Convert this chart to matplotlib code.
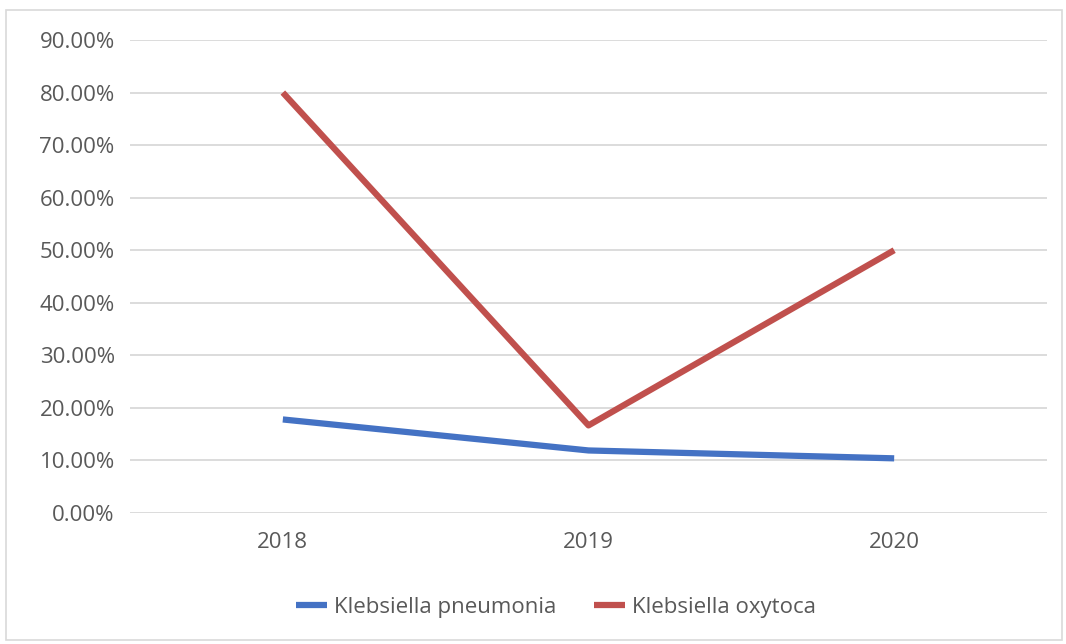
import matplotlib
matplotlib.use("Agg")
import matplotlib.pyplot as plt
from matplotlib.ticker import FuncFormatter
from matplotlib.patches import Rectangle

years = ["2018", "2019", "2020"]
pneumonia = [0.178, 0.119, 0.104]
oxytoca = [0.80, 0.1667, 0.50]
yticks = [0.0, 0.1, 0.2, 0.3, 0.4, 0.5, 0.6, 0.7, 0.8, 0.9]

plt.rcParams['font.family'] = ['Open Sans', 'DejaVu Sans']

fig = plt.figure(figsize=(10.66, 6.44), dpi=100)
fig.patches.append(Rectangle((6/1066, 4/644), 1056/1066, 630/644, transform=fig.transFigure,
                             fill=False, edgecolor='#D9D9D9', linewidth=1.2))
ax = fig.add_axes([130/1066, 1 - 513/644, 917/1066, 473/644])

x = list(range(len(years)))
ax.plot(x, pneumonia, color='#4472C4', linewidth=4.5, label='Klebsiella pneumonia', solid_capstyle='butt')
ax.plot(x, oxytoca, color='#C0504D', linewidth=4.5, label='Klebsiella oxytoca', solid_capstyle='butt')

ax.set_xlim(-0.5, len(years) - 0.5)
ax.set_ylim(0, 0.9)
ax.set_yticks(yticks)
ax.yaxis.set_major_formatter(FuncFormatter(lambda v, p: f"{v*100:.2f}%"))
ax.set_xticks(x)
ax.set_xticklabels(years)
ax.tick_params(axis='both', length=0, labelsize=16, labelcolor='#595959')
ax.tick_params(axis='y', pad=11)
ax.tick_params(axis='x', pad=14)
ax.grid(axis='y', color='#D9D9D9', linewidth=1.3)
ax.set_axisbelow(True)
for s in ax.spines.values():
    s.set_visible(False)

leg = fig.legend(loc='center', bbox_to_anchor=(0.5216, 1 - 607/644), ncol=2, frameon=False,
                 fontsize=16, handlelength=1.4, handletextpad=0.3, columnspacing=1.7)
for t in leg.get_texts():
    t.set_color('#595959')

fig.savefig('out.png', dpi=100)
